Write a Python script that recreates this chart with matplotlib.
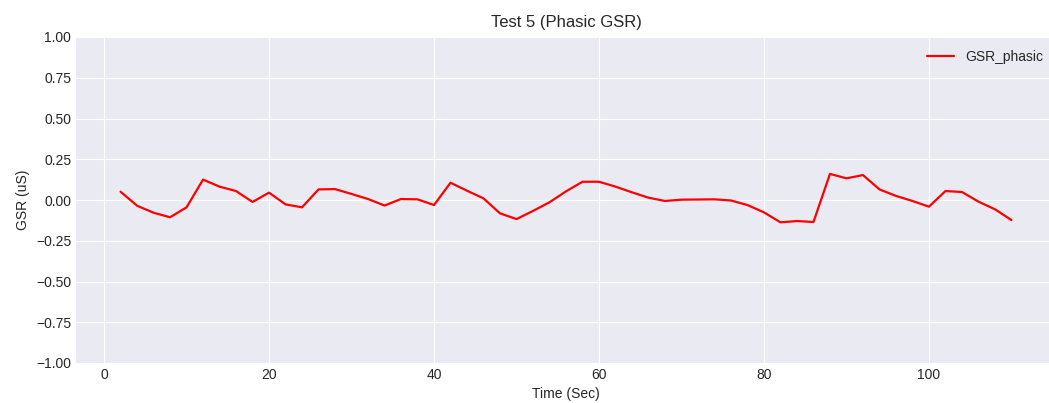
import matplotlib
matplotlib.use("Agg")
import matplotlib.pyplot as plt

plt.style.use("seaborn-v0_8-darkgrid")
plt.rcParams["font.family"] = ["Liberation Sans", "DejaVu Sans"]

# Phasic GSR component sampled every 2 seconds
time_sec = list(range(2, 112, 2))
gsr_phasic = [
    0.051, -0.035, -0.078, -0.106, -0.045, 0.125, 0.082, 0.055, -0.012, 0.045,
    -0.027, -0.045, 0.065, 0.067, 0.037, 0.006, -0.034, 0.006, 0.004, -0.031,
    0.106, 0.057, 0.010, -0.082, -0.117, -0.067, -0.014, 0.053, 0.112, 0.112,
    0.082, 0.047, 0.014, -0.006, 0.002, 0.003, 0.004, -0.003, -0.031, -0.076,
    -0.137, -0.129, -0.135, 0.160, 0.133, 0.153, 0.065, 0.025, -0.006, -0.041,
    0.055, 0.049, -0.010, -0.057, -0.123,
]

W, H = 1049, 403
fig = plt.figure(figsize=(W / 100, H / 100), dpi=100)
ax = fig.add_axes([76 / W, (H - 363) / H, 980 / W, 326 / H])

ax.plot(time_sec, gsr_phasic, color="red", linewidth=1.6, label="GSR_phasic")
ax.set_ylim(-1.0, 1.0)
ax.set_yticks([-1.0, -0.75, -0.5, -0.25, 0.0, 0.25, 0.5, 0.75, 1.0])
ax.set_title("Test 5 (Phasic GSR)", fontsize=12, pad=7.5)
ax.set_xlabel("Time (Sec)")
ax.set_ylabel("GSR (uS)")
ax.legend(loc="upper right")

fig.savefig("out.png", dpi=100)
